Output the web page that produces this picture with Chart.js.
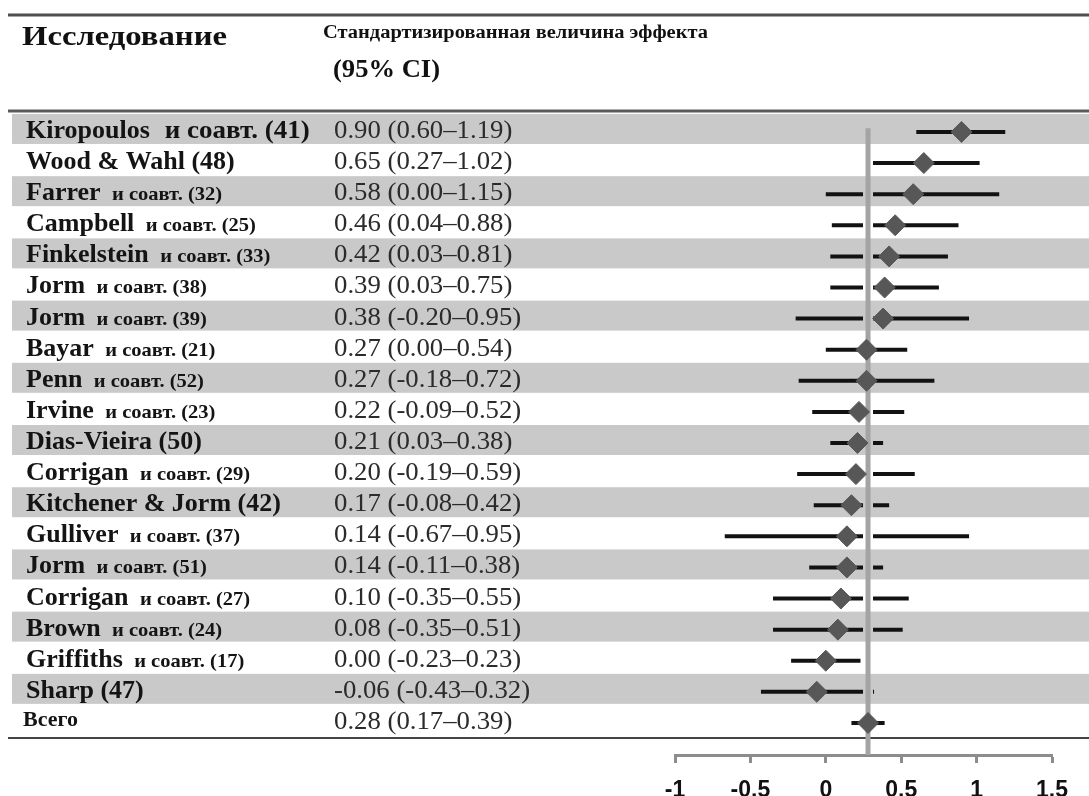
<!DOCTYPE html>
<html lang="ru">
<head>
<meta charset="utf-8">
<title>Forest plot</title>
<script src="https://cdn.jsdelivr.net/npm/chart.js@4.4.1/dist/chart.umd.min.js"></script>
<style>
  html, body { margin: 0; padding: 0; background: #fff; }
  #forest { display: block; }
</style>
</head>
<body>
<canvas id="forest" width="1089" height="796"></canvas>
<script>
const studyNames = [
  "Kiropoulos", "Wood & Wahl (48)", "Farrer", "Campbell", "Finkelstein",
  "Jorm", "Jorm", "Bayar", "Penn", "Irvine",
  "Dias-Vieira (50)", "Corrigan", "Kitchener & Jorm (42)", "Gulliver", "Jorm",
  "Corrigan", "Brown", "Griffiths", "Sharp (47)", "Всего",
];
const studyRefs = [
  "и соавт. (41)", "", "и соавт. (32)", "и соавт. (25)", "и соавт. (33)",
  "и соавт. (38)", "и соавт. (39)", "и соавт. (21)", "и соавт. (52)", "и соавт. (23)",
  "", "и соавт. (29)", "", "и соавт. (37)", "и соавт. (51)",
  "и соавт. (27)", "и соавт. (24)", "и соавт. (17)", "", "",
];
const effects = [0.90, 0.65, 0.58, 0.46, 0.42, 0.39, 0.38, 0.27, 0.27, 0.22, 0.21, 0.20, 0.17, 0.14, 0.14, 0.10, 0.08, 0.00, -0.06, 0.28];
const lowerCI = [0.60, 0.27, 0.00, 0.04, 0.03, 0.03, -0.20, 0.00, -0.18, -0.09, 0.03, -0.19, -0.08, -0.67, -0.11, -0.35, -0.35, -0.23, -0.43, 0.17];
const upperCI = [1.19, 1.02, 1.15, 0.88, 0.81, 0.75, 0.95, 0.54, 0.72, 0.52, 0.38, 0.59, 0.42, 0.95, 0.38, 0.55, 0.51, 0.23, 0.32, 0.39];
const xTicks = [-1, -0.5, 0, 0.5, 1, 1.5];

const totalIndex = studyNames.length - 1;
const bandColor = "#c9c9c9";
const serif = '"Liberation Serif", "Times New Roman", serif';

function fmt(v) {
  return v.toFixed(2);
}

function drawText(ctx, text, x, y, font, color, sx) {
  ctx.save();
  ctx.font = font;
  ctx.fillStyle = color;
  ctx.textBaseline = "alphabetic";
  ctx.translate(x, y);
  ctx.scale(sx, 1);
  ctx.fillText(text, 0, 0);
  const w = ctx.measureText(text).width * sx;
  ctx.restore();
  return w;
}

function fitText(ctx, text, x, y, font, color, targetWidth) {
  ctx.save();
  ctx.font = font;
  const w = ctx.measureText(text).width;
  ctx.restore();
  drawText(ctx, text, x, y, font, color, targetWidth / w);
}

function hLine(ctx, x0, x1, y, lw, color) {
  ctx.save();
  ctx.strokeStyle = color;
  ctx.lineWidth = lw;
  ctx.beginPath();
  ctx.moveTo(x0, y);
  ctx.lineTo(x1, y);
  ctx.stroke();
  ctx.restore();
}

function rowColor(i) {
  return i % 2 === 0 ? bandColor : "#ffffff";
}

const tablePlugin = {
  id: "forestTable",
  beforeDatasetsDraw(chart) {
    const { ctx, width } = chart;
    const yScale = chart.scales.y;

    ctx.save();
    ctx.fillStyle = bandColor;
    studyNames.forEach((_, i) => {
      if (i % 2 === 0) {
        const y = yScale.getPixelForValue(i);
        ctx.fillRect(12, y - 18, width - 12, 30);
      }
    });
    ctx.restore();

    hLine(ctx, 8, width, 15, 3, "#4f4f4f");
    hLine(ctx, 8, width, 111, 3, "#5a5a5a");
    hLine(ctx, 8, width, 738, 2, "#454545");

    fitText(ctx, "Исследование", 22, 45, `bold 28px ${serif}`, "#111", 205);
    fitText(ctx, "Стандартизированная величина эффекта", 323, 38, `bold 18px ${serif}`, "#111", 385);
    fitText(ctx, "(95% CI)", 333, 77, `bold 25px ${serif}`, "#111", 107);

    studyNames.forEach((name, i) => {
      const yc = yScale.getPixelForValue(i);
      const values = `${fmt(effects[i])} (${fmt(lowerCI[i])}–${fmt(upperCI[i])})`;
      drawText(ctx, values, 334, yc + 6, `25px ${serif}`, "#2b2b2b", 1.07);

      if (i === totalIndex) {
        drawText(ctx, name, 23, yc + 3, `bold 20px ${serif}`, "#141414", 1.1);
        return;
      }
      const w = drawText(ctx, name, 26, yc + 6, `bold 25px ${serif}`, "#141414", 1.04);
      if (studyRefs[i]) {
        const size = i === 0 ? 25 : 19;
        drawText(ctx, studyRefs[i], 26 + w + size * 0.6, yc + 6, `bold ${size}px ${serif}`, "#141414", 1.08);
      }
    });
  },
  beforeDatasetDraw(chart, args) {
    if (args.index !== studyNames.length) return;
    // break the CI bars around the reference line, like the original
    const { ctx } = chart;
    const xRef = chart.scales.x.getPixelForValue(effects[totalIndex]);
    ctx.save();
    studyNames.forEach((_, i) => {
      const y = chart.scales.y.getPixelForValue(i);
      ctx.fillStyle = rowColor(i);
      ctx.fillRect(xRef - 5, y - 3, 10, 6);
    });
    ctx.restore();
  },
};

const ciDatasets = studyNames.map((_, i) => ({
  data: [
    { x: lowerCI[i], y: i },
    { x: upperCI[i], y: i },
  ],
  showLine: true,
  borderColor: "#121212",
  borderWidth: 4,
  borderCapStyle: "butt",
  pointRadius: 0,
  order: 3,
}));

const refDataset = {
  data: [
    { x: effects[totalIndex], y: -0.12 },
    { x: effects[totalIndex], y: 20.03 },
  ],
  showLine: true,
  borderColor: "#a4a4a4",
  borderWidth: 5,
  borderCapStyle: "butt",
  pointRadius: 0,
  order: 2,
};

const pointDataset = {
  data: effects.map((e, i) => ({ x: e, y: i })),
  pointStyle: "rectRot",
  pointRadius: 10.5,
  backgroundColor: "#575757",
  borderColor: "#575757",
  borderWidth: 1,
  showLine: false,
  order: 1,
};

new Chart(document.getElementById("forest"), {
  type: "scatter",
  data: {
    datasets: [...ciDatasets, refDataset, pointDataset],
  },
  options: {
    responsive: false,
    animation: false,
    events: [],
    layout: {
      padding: { left: 675, right: 37, top: 116.4, bottom: 0 },
    },
    plugins: {
      legend: { display: false },
      tooltip: { enabled: false },
    },
    scales: {
      x: {
        type: "linear",
        min: xTicks[0],
        max: xTicks[xTicks.length - 1],
        afterFit: (scale) => {
          scale.height = 41;
        },
        afterBuildTicks: (scale) => {
          scale.ticks = xTicks.map((v) => ({ value: v }));
        },
        border: { display: true, color: "#8c8c8c", width: 3 },
        grid: {
          drawOnChartArea: false,
          drawTicks: true,
          tickLength: 8,
          tickWidth: 3,
          tickColor: "#8c8c8c",
        },
        ticks: {
          padding: 14,
          color: "#111",
          font: { family: '"Liberation Sans", Arial, sans-serif', size: 23, weight: "bold" },
          callback: (v) => String(Math.round(v * 10) / 10),
        },
      },
      y: {
        type: "linear",
        reverse: true,
        min: -0.5,
        max: 20.03,
        display: false,
      },
    },
  },
  plugins: [tablePlugin],
});
</script>
</body>
</html>
